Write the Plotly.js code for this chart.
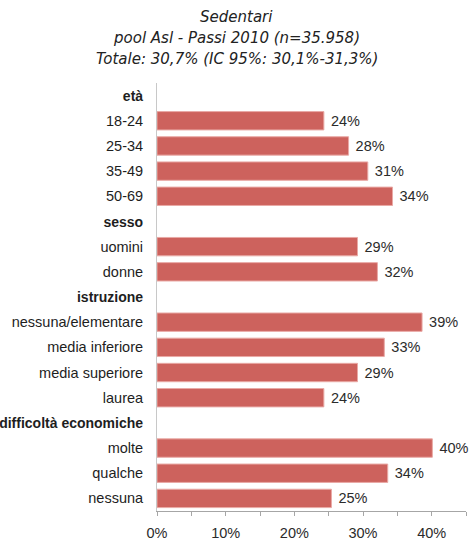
<!DOCTYPE html>
<html>
<head>
<meta charset="utf-8">
<script src="https://cdn.plot.ly/plotly-3.0.1.min.js"></script>
<style>
html,body{margin:0;padding:0;background:#fff;}
#chart{width:473px;height:542px;}
</style>
</head>
<body>
<div id="chart"></div>
<script>
// Categories (top to bottom); group headers carry no bar
const categories = [
  "<b>età</b>", "18-24", "25-34", "35-49", "50-69",
  "<b>sesso</b>", "uomini", "donne",
  "<b>istruzione</b>", "nessuna/elementare", "media inferiore", "media superiore", "laurea",
  "<b>difficoltà economiche</b>", "molte", "qualche", "nessuna"
];
// Percent of sedentary people (null for headers)
const values = [
  null, 24.3, 27.9, 30.7, 34.3,
  null, 29.2, 32.1,
  null, 38.6, 33.1, 29.2, 24.3,
  null, 40.1, 33.6, 25.4
];
const xTickVals = [0, 10, 20, 30, 40];
const xTickText = ["0%", "10%", "20%", "30%", "40%"];
const titleLines = [
  "Sedentari",
  "pool Asl - Passi 2010 (n=35.958)",
  "Totale: 30,7% (IC 95%: 30,1%-31,3%)"
];

const sans = "'Liberation Sans', Arial, sans-serif";
const plotTop = 83, plotBottom = 511, W = 473, L = 157, R = 7;
const plotH = plotBottom - plotTop, plotW = W - L - R;
const titleY = [17, 38, 59];

const tickLabels = categories.map(c =>
  c.startsWith("<b>") ? '<span style="font-size:14px">' + c + "</span>" : c);

const trace = {
  type: "bar",
  orientation: "h",
  y: categories,
  x: values,
  marker: { color: "#CD625D", line: { color: "#E9A9A5", width: 1 } },
  text: values.map(v => v === null ? "" : "\u00a0" + Math.round(v) + "%"),
  textposition: "outside",
  textfont: { family: sans, size: 14.5, color: "#2b2b2b" },
  cliponaxis: false,
  hoverinfo: "none"
};

const layout = {
  width: W,
  height: 542,
  margin: { l: L, r: R, t: plotTop, b: 542 - plotBottom },
  paper_bgcolor: "#fff",
  plot_bgcolor: "#fff",
  showlegend: false,
  bargap: 0.27,
  annotations: titleLines.map((t, i) => ({
    text: "<i>" + t + "</i>",
    xref: "paper", yref: "paper",
    x: (W / 2 - L) / plotW,
    y: (plotBottom - titleY[i]) / plotH,
    xanchor: "center", yanchor: "middle",
    showarrow: false,
    font: { family: "'DejaVu Sans', Verdana, sans-serif", size: 15, color: "#222" }
  })),
  xaxis: {
    range: [0, 45],
    tickvals: xTickVals,
    ticktext: xTickText,
    ticks: "outside",
    ticklen: 4,
    tickcolor: "#a6a6a6",
    minor: { dtick: 5, tick0: 0, ticks: "outside", ticklen: 4, tickcolor: "#a6a6a6", showgrid: false },
    showline: true,
    linecolor: "#a6a6a6",
    linewidth: 1,
    showgrid: false,
    zeroline: false,
    tickfont: { family: sans, size: 14.5, color: "#2b2b2b" },
    ticklabelstandoff: 5,
    fixedrange: true
  },
  yaxis: {
    type: "category",
    categoryorder: "array",
    categoryarray: categories,
    tickvals: categories,
    ticktext: tickLabels,
    range: [16.5, -0.5],
    showline: true,
    linecolor: "#c8c8c8",
    linewidth: 1,
    ticks: "",
    showgrid: false,
    zeroline: false,
    tickfont: { family: sans, size: 14.5, color: "#1e1e1e" },
    ticklabelstandoff: 10,
    fixedrange: true
  }
};

Plotly.newPlot("chart", [trace], layout, { displayModeBar: false, staticPlot: true });
</script>
</body>
</html>
